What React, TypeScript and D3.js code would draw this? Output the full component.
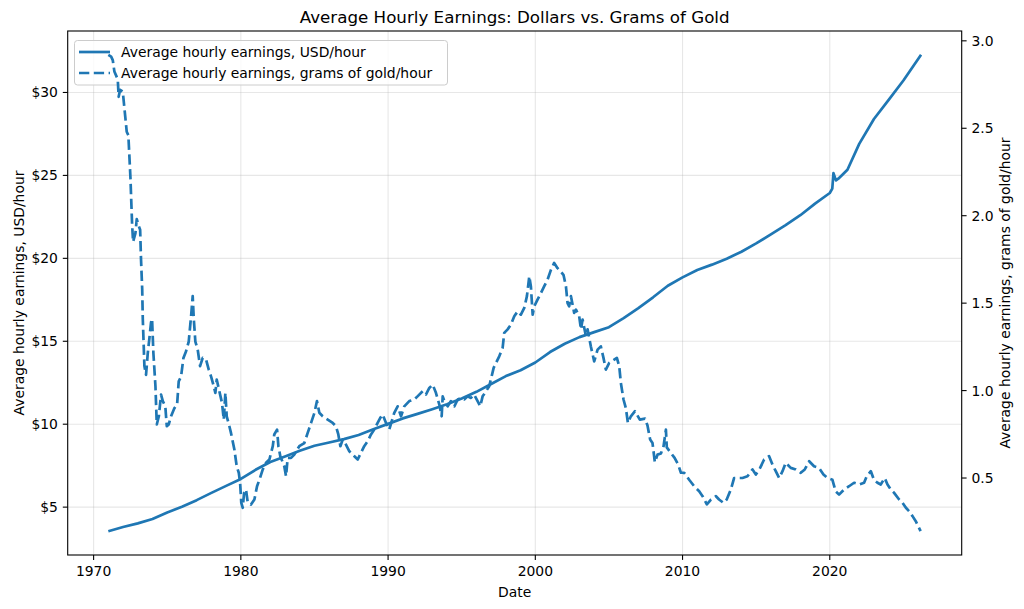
import { useEffect, useRef } from "react";
import * as d3 from "d3";

const WIDTH = 1024;
const HEIGHT = 609;
const FONT = "'DejaVu Sans', sans-serif";
const BLUE = "#1f77b4";

// Average hourly earnings in dollars, by decimal year
const usdDates = [
  1971.0, 1972.0, 1973.0, 1974.0, 1975.0, 1976.0, 1977.0, 1978.0, 1979.0, 1980.0,
  1981.0, 1982.0, 1983.0, 1984.0, 1985.0, 1986.0, 1987.0, 1988.0, 1989.0, 1990.0,
  1991.0, 1992.0, 1993.0, 1994.0, 1995.0, 1996.0, 1997.0, 1998.0, 1999.0, 2000.0,
  2001.0, 2002.0, 2003.0, 2004.0, 2005.0, 2006.0, 2007.0, 2008.0, 2009.0, 2010.0,
  2011.0, 2012.0, 2013.0, 2014.0, 2015.0, 2016.0, 2017.0, 2018.0, 2019.0, 2020.0,
  2020.17, 2020.25, 2020.42, 2020.58, 2020.86, 2021.2, 2022.0, 2023.0, 2024.0, 2025.0,
  2026.2,
];
const usdValues = [
  3.55, 3.8, 4.02, 4.28, 4.68, 5.02, 5.42, 5.86, 6.28, 6.7,
  7.25, 7.72, 8.05, 8.4, 8.7, 8.9, 9.1, 9.35, 9.7, 10.02,
  10.35, 10.62, 10.9, 11.2, 11.55, 11.95, 12.42, 12.9, 13.25, 13.72,
  14.35, 14.85, 15.25, 15.55, 15.85, 16.4, 17.0, 17.65, 18.35, 18.85,
  19.3, 19.62, 19.98, 20.4, 20.9, 21.45, 22.0, 22.6, 23.3, 23.94,
  24.2, 25.14, 24.7, 24.8, 25.04, 25.34, 26.9, 28.4, 29.55, 30.72,
  32.27,
];

// Same earnings expressed in grams of gold per hour: [decimal year, grams]
const goldPerHour: [number, number][] = [
  [1971.0, 2.92], [1971.19, 2.91], [1971.3, 2.89], [1971.41, 2.825], [1971.64, 2.78],
  [1971.7, 2.68], [1971.8, 2.72], [1971.98, 2.71], [1972.25, 2.48], [1972.36, 2.46],
  [1972.5, 2.22], [1972.61, 1.96], [1972.68, 1.85], [1972.84, 1.9], [1972.93, 1.98],
  [1973.07, 1.94], [1973.16, 1.92], [1973.22, 1.75], [1973.3, 1.58], [1973.34, 1.41],
  [1973.45, 1.14], [1973.56, 1.09], [1973.68, 1.215], [1973.79, 1.3], [1973.9, 1.39],
  [1973.97, 1.41], [1974.06, 1.215], [1974.2, 1.025], [1974.29, 0.806], [1974.43, 0.853],
  [1974.58, 0.977], [1974.7, 0.94], [1974.87, 0.91], [1974.97, 0.796], [1975.1, 0.806],
  [1975.26, 0.853], [1975.49, 0.9], [1975.67, 0.92], [1975.78, 1.053], [1975.94, 1.08],
  [1976.1, 1.187], [1976.28, 1.225], [1976.46, 1.28], [1976.62, 1.425], [1976.73, 1.54],
  [1976.8, 1.415], [1976.91, 1.28], [1977.07, 1.234], [1977.23, 1.14], [1977.41, 1.187],
  [1977.64, 1.177], [1977.82, 1.12], [1977.98, 1.08], [1978.13, 1.034], [1978.27, 0.987],
  [1978.36, 1.063], [1978.54, 0.996], [1978.72, 0.93], [1978.84, 0.834], [1978.95, 0.987],
  [1979.04, 0.853], [1979.22, 0.796], [1979.33, 0.758], [1979.56, 0.663], [1979.72, 0.567],
  [1979.86, 0.53], [1979.95, 0.473], [1980.03, 0.358], [1980.13, 0.33], [1980.22, 0.415],
  [1980.35, 0.434], [1980.47, 0.358], [1980.69, 0.348], [1980.92, 0.377], [1981.1, 0.453],
  [1981.26, 0.49], [1981.49, 0.549], [1981.71, 0.587], [1981.94, 0.606], [1982.17, 0.682],
  [1982.27, 0.749], [1982.46, 0.777], [1982.55, 0.682], [1982.68, 0.625], [1982.95, 0.567],
  [1983.07, 0.51], [1983.18, 0.615], [1983.41, 0.615], [1983.63, 0.634], [1983.97, 0.682],
  [1984.31, 0.7], [1984.54, 0.758], [1984.77, 0.815], [1985.0, 0.873], [1985.17, 0.94],
  [1985.33, 0.873], [1985.56, 0.853], [1985.9, 0.834], [1986.24, 0.815], [1986.46, 0.796],
  [1986.62, 0.749], [1986.76, 0.682], [1986.92, 0.72], [1987.14, 0.691], [1987.37, 0.653],
  [1987.71, 0.625], [1987.94, 0.606], [1988.16, 0.644], [1988.38, 0.682], [1988.61, 0.71],
  [1988.84, 0.749], [1989.06, 0.777], [1989.29, 0.815], [1989.47, 0.844], [1989.63, 0.863],
  [1989.86, 0.815], [1990.08, 0.777], [1990.42, 0.873], [1990.65, 0.91], [1990.88, 0.853],
  [1991.1, 0.91], [1991.44, 0.94], [1991.78, 0.949], [1992.0, 0.967], [1992.35, 0.996],
  [1992.57, 0.977], [1992.8, 1.015], [1993.03, 1.034], [1993.25, 0.987], [1993.48, 0.92],
  [1993.64, 0.853], [1993.71, 0.967], [1993.82, 0.94], [1994.05, 0.91], [1994.27, 0.94],
  [1994.5, 0.91], [1994.73, 0.949], [1994.95, 0.958], [1995.17, 0.949], [1995.4, 0.967],
  [1995.63, 0.958], [1995.85, 0.977], [1996.08, 0.94], [1996.26, 0.91], [1996.42, 0.967],
  [1996.65, 0.996], [1996.87, 1.025], [1997.03, 1.08], [1997.17, 1.13], [1997.33, 1.158],
  [1997.55, 1.196], [1997.78, 1.244], [1997.89, 1.33], [1998.12, 1.35], [1998.34, 1.377],
  [1998.57, 1.425], [1998.8, 1.453], [1999.02, 1.434], [1999.25, 1.473], [1999.43, 1.54],
  [1999.59, 1.653], [1999.7, 1.596], [1999.82, 1.434], [1999.93, 1.482], [2000.15, 1.52],
  [2000.38, 1.558], [2000.6, 1.596], [2000.83, 1.634], [2001.06, 1.69], [2001.28, 1.73],
  [2001.51, 1.7], [2001.74, 1.68], [2001.92, 1.66], [2002.08, 1.596], [2002.19, 1.5],
  [2002.3, 1.482], [2002.42, 1.54], [2002.64, 1.444], [2002.76, 1.463], [2002.98, 1.425],
  [2003.1, 1.35], [2003.21, 1.406], [2003.44, 1.31], [2003.55, 1.35], [2003.77, 1.253],
  [2004.0, 1.167], [2004.23, 1.234], [2004.45, 1.253], [2004.63, 1.187], [2004.79, 1.12],
  [2005.02, 1.158], [2005.36, 1.177], [2005.54, 1.187], [2005.7, 1.139], [2005.81, 1.044],
  [2005.99, 0.949], [2006.15, 0.9], [2006.29, 0.815], [2006.49, 0.853], [2006.77, 0.882],
  [2007.1, 0.834], [2007.45, 0.84], [2007.62, 0.8], [2007.8, 0.72], [2007.96, 0.7],
  [2008.12, 0.59], [2008.3, 0.634], [2008.53, 0.64], [2008.71, 0.682], [2008.87, 0.777],
  [2008.93, 0.675], [2009.2, 0.644], [2009.46, 0.615], [2009.7, 0.577], [2009.89, 0.53],
  [2010.11, 0.53], [2010.45, 0.49], [2010.79, 0.453], [2011.13, 0.424], [2011.36, 0.396],
  [2011.65, 0.349], [2011.93, 0.377], [2012.27, 0.396], [2012.48, 0.377], [2012.78, 0.358],
  [2013.0, 0.377], [2013.28, 0.434], [2013.5, 0.5], [2013.77, 0.5], [2014.07, 0.5],
  [2014.41, 0.51], [2014.75, 0.549], [2014.98, 0.52], [2015.27, 0.558], [2015.54, 0.606],
  [2015.88, 0.625], [2016.11, 0.577], [2016.33, 0.539], [2016.56, 0.5], [2016.79, 0.539],
  [2017.01, 0.587], [2017.35, 0.558], [2017.69, 0.549], [2018.03, 0.53], [2018.3, 0.549],
  [2018.6, 0.596], [2018.93, 0.567], [2019.27, 0.558], [2019.57, 0.52], [2019.84, 0.5],
  [2020.18, 0.49], [2020.4, 0.424], [2020.63, 0.405], [2020.97, 0.434], [2021.31, 0.453],
  [2021.65, 0.473], [2021.99, 0.463], [2022.33, 0.473], [2022.51, 0.51], [2022.79, 0.539],
  [2023.0, 0.49], [2023.24, 0.473], [2023.46, 0.463], [2023.73, 0.5], [2023.92, 0.463],
  [2024.15, 0.434], [2024.37, 0.415], [2024.71, 0.377], [2024.94, 0.358], [2025.17, 0.33],
  [2025.39, 0.31], [2025.62, 0.282], [2025.84, 0.253], [2026.06, 0.215], [2026.17, 0.196],
];

const xTicks = [1970, 1980, 1990, 2000, 2010, 2020];
const usdTicks = [5, 10, 15, 20, 25, 30];
const goldTicks = [0.5, 1.0, 1.5, 2.0, 2.5, 3.0];

const legendLabels = [
  "Average hourly earnings, USD/hour",
  "Average hourly earnings, grams of gold/hour",
];

// matplotlib-style 5% margins around the data extent
const padded = (lo: number, hi: number): [number, number] => {
  const p = (hi - lo) * 0.05;
  return [lo - p, hi + p];
};

export default function App() {
  const svgRef = useRef<SVGSVGElement | null>(null);

  useEffect(() => {
    if (!svgRef.current) return;
    const svg = d3.select(svgRef.current);
    svg.selectAll("*").remove();

    const m = { left: 67.7, right: 62.3, top: 31, bottom: 54 };
    const x0 = m.left;
    const x1 = WIDTH - m.right;
    const y0 = HEIGHT - m.bottom;
    const y1 = m.top;

    const allDates = [...usdDates, ...goldPerHour.map((d) => d[0])];
    const x = d3
      .scaleLinear()
      .domain(padded(d3.min(allDates)!, d3.max(allDates)!))
      .range([x0, x1]);
    const yUsd = d3
      .scaleLinear()
      .domain(padded(d3.min(usdValues)!, d3.max(usdValues)!))
      .range([y0, y1]);
    const goldVals = goldPerHour.map((d) => d[1]);
    const yGold = d3
      .scaleLinear()
      .domain(padded(d3.min(goldVals)!, d3.max(goldVals)!))
      .range([y0, y1]);

    svg.append("rect").attr("width", WIDTH).attr("height", HEIGHT).attr("fill", "#ffffff");

    // grid
    const grid = svg.append("g").attr("stroke", "#b0b0b0").attr("stroke-opacity", 0.3).attr("stroke-width", 1.1);
    grid
      .selectAll("line.gx")
      .data(xTicks)
      .join("line")
      .attr("class", "gx")
      .attr("x1", (d) => x(d))
      .attr("x2", (d) => x(d))
      .attr("y1", y1)
      .attr("y2", y0);
    grid
      .selectAll("line.gy")
      .data(usdTicks)
      .join("line")
      .attr("class", "gy")
      .attr("x1", x0)
      .attr("x2", x1)
      .attr("y1", (d) => yUsd(d))
      .attr("y2", (d) => yUsd(d));

    const usdLine = d3
      .line<number>()
      .x((_, i) => x(usdDates[i]))
      .y((d) => yUsd(d));
    svg
      .append("path")
      .datum(usdValues)
      .attr("fill", "none")
      .attr("stroke", BLUE)
      .attr("stroke-width", 2.7)
      .attr("stroke-linejoin", "round")
      .attr("stroke-linecap", "butt")
      .attr("d", usdLine);

    // legend belongs to the dollar axes, so the gold line draws over it
    const lg = svg.append("g");
    lg.append("rect")
      .attr("x", 74.5)
      .attr("y", 40.5)
      .attr("width", 373)
      .attr("height", 44.5)
      .attr("rx", 3)
      .attr("fill", "#ffffff")
      .attr("fill-opacity", 0.8)
      .attr("stroke", "#cccccc")
      .attr("stroke-width", 1);
    legendLabels.forEach((label, i) => {
      const ry = 52 + i * 21;
      lg.append("line")
        .attr("x1", 79)
        .attr("x2", 110)
        .attr("y1", ry)
        .attr("y2", ry)
        .attr("stroke", BLUE)
        .attr("stroke-width", 2.7)
        .attr("stroke-dasharray", i === 1 ? "10.3,4.5" : null);
      lg.append("text")
        .attr("x", 121)
        .attr("y", ry + 5)
        .attr("font-family", FONT)
        .attr("font-size", 13.9)
        .attr("fill", "#000")
        .text(label);
    });

    const goldLine = d3
      .line<[number, number]>()
      .x((d) => x(d[0]))
      .y((d) => yGold(d[1]));
    svg
      .append("path")
      .datum(goldPerHour)
      .attr("fill", "none")
      .attr("stroke", BLUE)
      .attr("stroke-width", 2.7)
      .attr("stroke-linejoin", "round")
      .attr("stroke-dasharray", "10.3,4.5")
      .attr("d", goldLine);

    // frame
    svg
      .append("rect")
      .attr("x", x0)
      .attr("y", y1)
      .attr("width", x1 - x0)
      .attr("height", y0 - y1)
      .attr("fill", "none")
      .attr("stroke", "#000")
      .attr("stroke-width", 1.1);

    const text = (sel: any) => sel.attr("font-family", FONT).attr("font-size", 13.9).attr("fill", "#000");

    // bottom axis
    const bx = svg.append("g");
    xTicks.forEach((t) => {
      bx.append("line").attr("x1", x(t)).attr("x2", x(t)).attr("y1", y0).attr("y2", y0 + 4.9).attr("stroke", "#000").attr("stroke-width", 1.1);
      text(bx.append("text")).attr("x", x(t)).attr("y", y0 + 21).attr("text-anchor", "middle").text(String(t));
    });

    // left axis, dollars
    const ly = svg.append("g");
    usdTicks.forEach((t) => {
      ly.append("line").attr("x1", x0 - 4.9).attr("x2", x0).attr("y1", yUsd(t)).attr("y2", yUsd(t)).attr("stroke", "#000").attr("stroke-width", 1.1);
      text(ly.append("text")).attr("x", x0 - 9.8).attr("y", yUsd(t) + 5).attr("text-anchor", "end").text(`$${t}`);
    });

    // right axis, grams of gold
    const ry = svg.append("g");
    goldTicks.forEach((t) => {
      ry.append("line").attr("x1", x1).attr("x2", x1 + 4.9).attr("y1", yGold(t)).attr("y2", yGold(t)).attr("stroke", "#000").attr("stroke-width", 1.1);
      text(ry.append("text")).attr("x", x1 + 9.8).attr("y", yGold(t) + 5).attr("text-anchor", "start").text(d3.format(".1f")(t));
    });

    const midY = (y0 + y1) / 2;
    text(svg.append("text"))
      .attr("transform", `translate(24,${midY}) rotate(-90)`)
      .attr("text-anchor", "middle")
      .text("Average hourly earnings, USD/hour");
    text(svg.append("text"))
      .attr("transform", `translate(1010,${midY}) rotate(-90)`)
      .attr("text-anchor", "middle")
      .text("Average hourly earnings, grams of gold/hour");
    text(svg.append("text"))
      .attr("x", (x0 + x1) / 2)
      .attr("y", 597)
      .attr("text-anchor", "middle")
      .text("Date");

    svg
      .append("text")
      .attr("x", (x0 + x1) / 2)
      .attr("y", 23)
      .attr("text-anchor", "middle")
      .attr("font-family", FONT)
      .attr("font-size", 16.7)
      .attr("fill", "#000")
      .text("Average Hourly Earnings: Dollars vs. Grams of Gold");
  }, []);

  return (
    <svg
      ref={svgRef}
      width={WIDTH}
      height={HEIGHT}
      style={{ position: "absolute", left: 0, top: 0, display: "block" }}
    />
  );
}
